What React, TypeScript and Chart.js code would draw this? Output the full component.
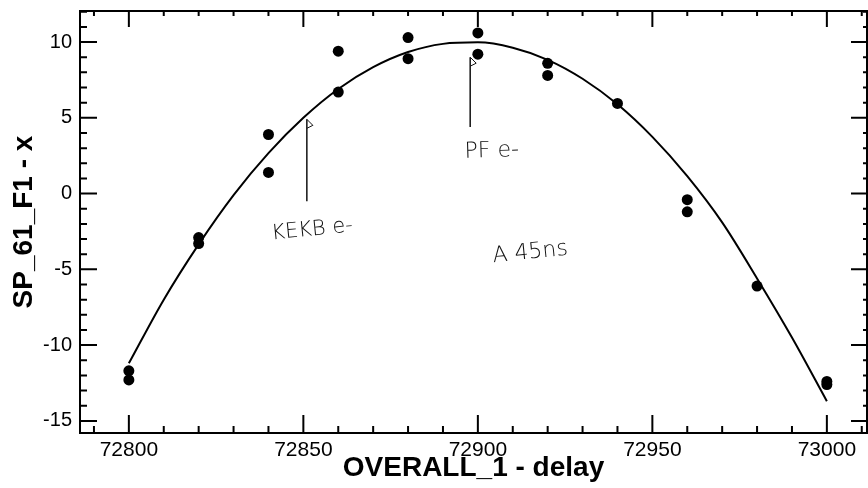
import React, { useEffect, useRef } from "react";
import { Chart, registerables } from "chart.js";

Chart.register(...registerables);

// Measured points
const delays = [72800, 72800, 72820, 72820, 72840, 72840, 72860, 72860, 72880, 72880, 72900, 72900, 72920, 72920, 72940, 72960, 72960, 72980, 73000, 73000];
const positions = [-11.7, -12.3, -2.9, -3.3, 3.9, 1.4, 9.4, 6.7, 10.3, 8.9, 10.6, 9.2, 8.6, 7.8, 5.95, -0.4, -1.2, -6.1, -12.4, -12.6];

// Fitted curve
const fitDelays = [72800, 72810, 72820, 72830, 72840, 72850, 72860, 72870, 72880, 72890, 72900, 72910, 72920, 72930, 72940, 72950, 72960, 72970, 72980, 72990, 73000];
const fitValues = [-11.2, -7.0, -3.35, -0.1, 2.67, 5.0, 6.9, 8.34, 9.34, 9.88, 9.98, 9.63, 8.83, 7.58, 5.89, 3.74, 1.15, -1.9, -5.6, -9.5, -13.7];

// Axis ticks
const xTicks = [72800, 72850, 72900, 72950, 73000];
const yTicks = [-15, -10, -5, 0, 5, 10];

// Handwritten notes
const noteTexts = ["KEKB e-", "PF e-", "A 45ns"];
const noteX = [72852.5, 72904, 72915];
const noteY = [-2.4, 2.8, -3.9];
const markerX = [72851, 72897.8];
const markerTop = [4.9, 9.0];
const markerBottom = [-0.5, 4.4];

const FONT = "'Liberation Sans', Arial, Helvetica, sans-serif";

const framePlugin = {
  id: "framePlugin",
  afterDraw(chart: any) {
    const { ctx, chartArea } = chart;
    const { left, right, top, bottom } = chartArea;
    const xs = chart.scales.x;
    const ys = chart.scales.y;
    ctx.save();
    ctx.strokeStyle = "#000";
    ctx.lineWidth = 2;
    ctx.strokeRect(left, top, right - left, bottom - top);

    // x ticks (bottom & top, inward)
    for (let v = Math.ceil(xs.min / 10) * 10; v <= xs.max; v += 10) {
      const px = xs.getPixelForValue(v);
      const major = v % 50 === 0;
      const lb = major ? 18 : 7;
      const lt = major ? 16 : 5;
      ctx.beginPath();
      ctx.moveTo(px, bottom);
      ctx.lineTo(px, bottom - lb);
      ctx.moveTo(px, top);
      ctx.lineTo(px, top + lt);
      ctx.stroke();
    }
    // y ticks (left & right, inward)
    for (let v = Math.ceil(ys.min); v <= ys.max; v += 1) {
      const py = ys.getPixelForValue(v);
      const major = v % 5 === 0;
      const ll = major ? 17 : 7;
      const lr = major ? 16 : 4;
      ctx.beginPath();
      ctx.moveTo(left, py);
      ctx.lineTo(left + ll, py);
      ctx.moveTo(right, py);
      ctx.lineTo(right - lr, py);
      ctx.stroke();
    }

    // marker lines with small flags
    ctx.lineWidth = 1.5;
    ctx.strokeStyle = "#111";
    markerX.forEach((mx, i) => {
      const px = xs.getPixelForValue(mx);
      const pt = ys.getPixelForValue(markerTop[i]);
      const pb = ys.getPixelForValue(markerBottom[i]);
      ctx.beginPath();
      ctx.moveTo(px, pb);
      ctx.lineTo(px, pt);
      ctx.stroke();
      ctx.lineWidth = 1;
      ctx.beginPath();
      ctx.moveTo(px, pt);
      ctx.lineTo(px + 6, pt + 6);
      ctx.lineTo(px, pt + 9);
      ctx.stroke();
      ctx.lineWidth = 1.5;
    });

    // handwritten notes
    ctx.fillStyle = "#111";
    ctx.textAlign = "center";
    ctx.textBaseline = "middle";
    noteTexts.forEach((t, i) => {
      const px = xs.getPixelForValue(noteX[i]);
      const py = ys.getPixelForValue(noteY[i]);
      ctx.save();
      ctx.translate(px, py);
      ctx.rotate(i === 1 ? -0.03 : -0.1);
      ctx.font = `200 ${i === 0 ? 21 : 22}px 'DejaVu Sans', sans-serif`;
      ctx.fillText(t, 0, 0);
      ctx.restore();
    });
    ctx.restore();
  },
};

export default function App() {
  const ref = useRef<HTMLCanvasElement | null>(null);
  useEffect(() => {
    document.body.style.margin = "0";
    const canvas = ref.current;
    if (!canvas) return;
    const chart = new Chart(canvas, {
      type: "scatter",
      data: {
        datasets: [
          {
            label: "fit",
            data: fitDelays.map((x, i) => ({ x, y: fitValues[i] })),
            showLine: true,
            borderColor: "#000",
            borderWidth: 2,
            pointRadius: 0,
            tension: 0.4,
            cubicInterpolationMode: "monotone",
          } as any,
          {
            label: "data",
            data: delays.map((x, i) => ({ x, y: positions[i] })),
            showLine: false,
            backgroundColor: "#000",
            borderColor: "#000",
            pointRadius: 5.5,
            pointBorderWidth: 0,
          },
        ],
      },
      options: {
        responsive: false,
        animation: false,
        layout: { autoPadding: false, padding: { top: 11, right: 1, left: 0, bottom: 0 } },
        plugins: { legend: { display: false }, tooltip: { enabled: false } },
        scales: {
          x: {
            type: "linear",
            min: 72786,
            max: 73011.5,
            grid: { display: false, drawTicks: false },
            border: { display: false },
            afterBuildTicks: (s: any) => {
              s.ticks = xTicks.map((v) => ({ value: v }));
            },
            afterFit: (s: any) => {
              s.height = 55;
              s.paddingLeft = 0;
              s.paddingRight = 0;
            },
            ticks: {
              color: "#000",
              padding: 5,
              maxRotation: 0,
              autoSkip: false,
              font: { family: FONT, size: 21 },
              callback: (v: any) => String(v),
            },
            title: {
              display: true,
              text: "OVERALL_1 - delay",
              color: "#000",
              font: { family: FONT, size: 28, weight: "bold" },
              padding: { top: 0, bottom: 3 },
            },
          },
          y: {
            type: "linear",
            min: -15.8,
            max: 12.05,
            grid: { display: false, drawTicks: false },
            border: { display: false },
            afterBuildTicks: (s: any) => {
              s.ticks = yTicks.map((v) => ({ value: v }));
            },
            afterFit: (s: any) => {
              s.width = 80;
              s.paddingTop = 0;
              s.paddingBottom = 0;
            },
            ticks: {
              color: "#000",
              padding: 8,
              autoSkip: false,
              font: { family: FONT, size: 20 },
              callback: (v: any) => String(v),
            },
            title: {
              display: true,
              text: "SP_61_F1 - x",
              color: "#000",
              font: { family: FONT, size: 28, weight: "bold" },
              padding: { top: 7, bottom: 0 },
            },
          },
        },
      },
      plugins: [framePlugin],
    });
    return () => chart.destroy();
  }, []);
  return (
    <div style={{ width: 868, height: 488, background: "#fff" }}>
      <canvas ref={ref} width={868} height={488} style={{ display: "block" }} />
    </div>
  );
}
